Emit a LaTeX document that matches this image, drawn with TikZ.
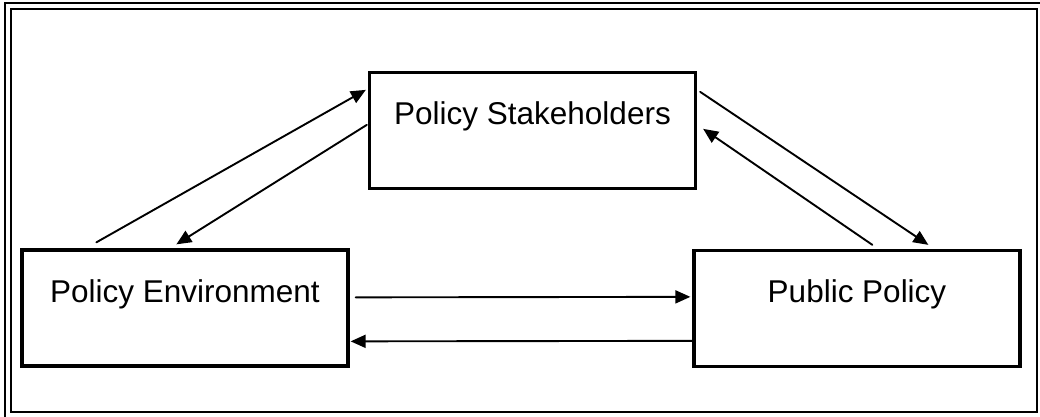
\documentclass[tikz,border=0pt]{standalone}
\usepackage{fontspec}
\setmainfont{Liberation Sans}
\usetikzlibrary{arrows.meta}

\begin{document}
\begin{tikzpicture}[x=1pt,y=1pt,line cap=round,>={Triangle[length=15pt,width=13pt]},
        box/.style={draw,line width=3.3pt,line join=miter,minimum width=326pt,minimum height=116pt,inner sep=0pt,text height=52pt,text depth=64pt,font=\fontsize{31.5}{37}\selectfont},
        link/.style={->,line width=1.9pt}]
        \useasboundingbox (0,0) rectangle (1040,416);
        \draw[line width=1.6pt] (5,-3) rectangle (1046,413);
        \draw[line width=2.5pt] (11,4) rectangle (1037,407);

        \node[box] (stake) at (532.5,285.5) {Policy Stakeholders};
        \node[box] (env) at (185,108) {Policy Environment};
        \node[box] (pub) at (857,107.5) {Public Policy};

        \draw [link] ([xshift=76pt,yshift=6pt]env.north west) -- ([xshift=-2pt,yshift=-19pt]stake.north west);
        \draw [link] ([xshift=-1pt,yshift=-54pt]stake.north west) -- ([xshift=156pt,yshift=4pt]env.north west);
        \draw [link] ([xshift=3pt,yshift=-21pt]stake.north east) -- ([xshift=236pt,yshift=4pt]pub.north west);
        \draw [link] ([xshift=180pt,yshift=4pt]pub.north west) -- ([xshift=6pt,yshift=-58pt]stake.north east);
        \draw [link] ([xshift=6pt,yshift=-49pt]env.north east) -- ([xshift=-2pt,yshift=-48pt]pub.north west);
        \draw [link] ([yshift=-92pt]pub.north west) -- ([xshift=1pt,yshift=-93pt]env.north east);

        \end{tikzpicture}
\end{document}
